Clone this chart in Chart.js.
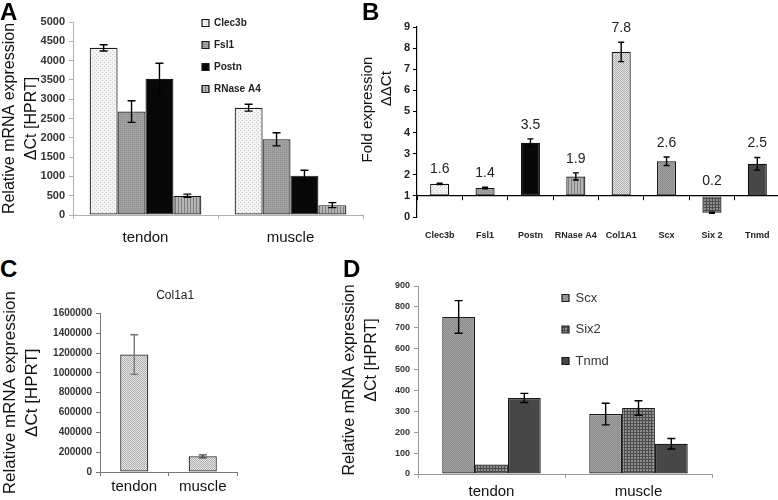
<!DOCTYPE html>
<html>
<head>
<meta charset="utf-8">
<script src="https://cdn.jsdelivr.net/npm/chart.js@4.4.1/dist/chart.umd.min.js"></script>
<style>
  body { margin: 0; background: #fff; }
  #page { position: relative; width: 778px; height: 500px; overflow: hidden; background: #fff; }
  canvas { position: absolute; }
  .letter { position: absolute; font: bold 24px "Liberation Sans", Arial, sans-serif; line-height: 24px; color: #000; }
</style>
</head>
<body>
<div id="page">
  <canvas id="chartA" width="387" height="255" style="left:-2px;top:0px"></canvas>
  <canvas id="chartB" width="422" height="245" style="left:358px;top:0px"></canvas>
  <canvas id="chartC" width="352" height="217" style="left:-1px;top:283px"></canvas>
  <canvas id="chartD" width="433" height="230" style="left:339px;top:270px"></canvas>
  <div class="letter" style="left:0px;top:0px">A</div>
  <div class="letter" style="left:362px;top:0px">B</div>
  <div class="letter" style="left:0px;top:257px">C</div>
  <div class="letter" style="left:343px;top:257px">D</div>
</div>
<script>
// data
const tissues = ["tendon", "muscle"];

// A: relative expression, tendon vs muscle
const aClec3b = [4330, 2780];
const aClec3bErr = [80, 90];
const aFsl1 = [2680, 1960];
const aFsl1Err = [280, 170];
const aPostn = [3530, 1020];
const aPostnErr = [400, 140];
const aRnase = [500, 255];
const aRnaseErr = [40, 65];

// B: fold expression (bars start at 1)
const bGenes = ["Clec3b", "Fsl1", "Postn", "RNase A4", "Col1A1", "Scx", "Six 2", "Tnmd"];
const bValues = [1.57, 1.37, 3.52, 1.92, 7.82, 2.64, 0.2, 2.52];
const bErrors = [0.03, 0.04, 0.18, 0.17, 0.46, 0.2, 0.03, 0.3];
const bLabels = ["1.6", "1.4", "3.5", "1.9", "7.8", "2.6", "0.2", "2.5"];

// C: Col1a1
const cCol1a1 = [1185000, 158000];
const cCol1a1Err = [200000, 15000];

// D: Scx, Six2, Tnmd
const dScx = [752, 287];
const dScxErr = [78, 52];
const dSix2 = [45, 316];
const dSix2Err = [0, 35];
const dTnmd = [364, 145];
const dTnmdErr = [22, 25];

Chart.defaults.font.family = '"Liberation Sans", Arial, sans-serif';
Chart.defaults.color = "#222";

const pattern = (w, h, bg, fg, pixels) => {
  const c = document.createElement("canvas");
  c.width = w;
  c.height = h;
  const g = c.getContext("2d");
  g.fillStyle = bg;
  g.fillRect(0, 0, w, h);
  g.fillStyle = fg;
  pixels.forEach(([x, y]) => g.fillRect(x, y, 1, 1));
  return g.createPattern(c, "repeat");
};

const dotsLight = pattern(4, 4, "#f3f3f3", "#c6c6c6", [[0, 0], [2, 2]]);
const dotsMid = pattern(2, 2, "#e4e4e4", "#b0b0b0", [[0, 0], [1, 1]]);
const greyFsl = pattern(2, 2, "#a0a0a0", "#8e8e8e", [[0, 0]]);
const stripes = pattern(3, 1, "#b6b6b6", "#7e7e7e", [[0, 0]]);
const hatchScx = pattern(2, 2, "#a2a2a2", "#8a8a8a", [[0, 0], [1, 1]]);
const gridSix = pattern(3, 3, "#8c8c8c", "#4c4c4c", [[0, 0], [1, 0], [2, 0], [0, 1], [0, 2]]);
const blackPostn = "#080808";
const darkTnmd = "#474747";

// error bars drawn through the value scale
const errorBars = {
  id: "errorBars",
  afterDatasetsDraw(chart, args, opts) {
    const { ctx } = chart;
    const y = chart.scales.y;
    const cap = opts.cap || 3;
    chart.data.datasets.forEach((ds, i) => {
      if (!ds.errors) return;
      chart.getDatasetMeta(i).data.forEach((bar, j) => {
        const e = ds.errors[j];
        if (!e) return;
        const v = ds.data[j];
        const top = y.getPixelForValue(v + e);
        const bot = y.getPixelForValue(v - e);
        ctx.save();
        ctx.strokeStyle = (ds.errorColors && ds.errorColors[j]) || "#000";
        ctx.lineWidth = 1.4;
        ctx.beginPath();
        ctx.moveTo(bar.x, top);
        ctx.lineTo(bar.x, bot);
        ctx.moveTo(bar.x - cap, top);
        ctx.lineTo(bar.x + cap, top);
        ctx.moveTo(bar.x - cap, bot);
        ctx.lineTo(bar.x + cap, bot);
        ctx.stroke();
        ctx.restore();
      });
    });
  }
};

// value labels above the bars (panel B)
const valueLabels = {
  id: "valueLabels",
  afterDatasetsDraw(chart) {
    const { ctx } = chart;
    const y = chart.scales.y;
    chart.data.datasets.forEach((ds, i) => {
      if (!ds.valueLabels) return;
      chart.getDatasetMeta(i).data.forEach((bar, j) => {
        const top = Math.max(ds.data[j], 1) + (ds.errors ? ds.errors[j] : 0);
        ctx.save();
        ctx.font = '14px "Liberation Sans", Arial, sans-serif';
        ctx.fillStyle = "#222";
        ctx.textAlign = "center";
        ctx.textBaseline = "middle";
        ctx.fillText(ds.valueLabels[j], bar.x, y.getPixelForValue(top) - 14);
        ctx.restore();
      });
    });
  }
};

// move the legend box to a fixed spot inside the canvas
const legendAt = {
  id: "legendAt",
  afterLayout(chart, args, opts) {
    if (opts.x === undefined) return;
    const pad = chart.options.plugins.legend.labels.padding;
    chart.legend.left = opts.x - pad;
    chart.legend.top = opts.y - pad;
  }
};

const plainNumber = v => String(v);

// Panel A
new Chart(document.getElementById("chartA"), {
  type: "bar",
  data: {
    labels: tissues,
    datasets: [
      { label: "Clec3b", data: aClec3b, errors: aClec3bErr, backgroundColor: dotsLight },
      { label: "Fsl1", data: aFsl1, errors: aFsl1Err, backgroundColor: greyFsl },
      { label: "Postn", data: aPostn, errors: aPostnErr, backgroundColor: blackPostn },
      { label: "RNase A4", data: aRnase, errors: aRnaseErr, backgroundColor: stripes }
    ]
  },
  options: {
    responsive: false,
    animation: false,
    events: [],
    devicePixelRatio: 1,
    layout: { padding: { top: 22, right: 22 } },
    datasets: {
      bar: { categoryPercentage: 0.77, barPercentage: 1, borderColor: "#1a1a1a", borderWidth: 1.2, borderSkipped: false }
    },
    scales: {
      x: {
        grid: { drawOnChartArea: false, color: "#b0b0b0", tickLength: 4 },
        border: { color: "#b0b0b0" },
        ticks: { font: { size: 15 }, color: "#111", padding: 10 },
        afterFit: s => { s.height = 40; }
      },
      y: {
        min: 0,
        max: 5000,
        ticks: { stepSize: 500, font: { size: 11, weight: "bold" }, color: "#333", padding: 4, callback: plainNumber },
        grid: { drawOnChartArea: false, color: "#b0b0b0", tickLength: 4 },
        border: { color: "#b0b0b0" },
        title: {
          display: true,
          text: ["Relative mRNA expression", "ΔCt [HPRT]"],
          font: { size: 16, lineHeight: 1.4 },
          color: "#111",
          padding: 0
        },
        afterFit: s => { s.width = 75; }
      }
    },
    plugins: {
      legend: {
        position: "chartArea",
        align: "start",
        labels: { boxWidth: 7, boxHeight: 7, padding: 12, font: { size: 10, weight: "bold" }, color: "#222" }
      },
      legendAt: { x: 204, y: 18 },
      errorBars: { cap: 4 },
      tooltip: { enabled: false }
    }
  },
  plugins: [errorBars, legendAt]
});

// Panel B
new Chart(document.getElementById("chartB"), {
  type: "bar",
  data: {
    labels: bGenes,
    datasets: [{
      label: "Fold expression",
      data: bValues,
      errors: bErrors,
      valueLabels: bLabels,
      base: 1,
      backgroundColor: [dotsLight, greyFsl, blackPostn, stripes, dotsMid, hatchScx, gridSix, darkTnmd],
      borderColor: "#111",
      borderWidth: 1.2,
      borderSkipped: false,
      categoryPercentage: 1,
      barPercentage: 0.42
    }]
  },
  options: {
    responsive: false,
    animation: false,
    events: [],
    devicePixelRatio: 1,
    layout: { padding: { top: 27, right: 0 } },
    scales: {
      x: {
        grid: { display: false },
        border: { display: false },
        ticks: { font: { size: 9, weight: "bold" }, color: "#222", padding: 5, maxRotation: 0, minRotation: 0, autoSkip: false },
        afterFit: s => { s.height = 28; }
      },
      xBase: {
        type: "category",
        labels: bGenes,
        position: { y: 1 },
        offset: true,
        grid: { offset: true, drawOnChartArea: false, color: "#000", tickLength: 4 },
        border: { color: "#000", width: 1.2 },
        ticks: { display: false }
      },
      y: {
        min: 0,
        max: 9,
        ticks: { stepSize: 1, font: { size: 11, weight: "bold" }, color: "#222", padding: 3 },
        grid: { drawOnChartArea: false, color: "#000", tickLength: 4 },
        border: { color: "#000", width: 1.2 },
        title: {
          display: true,
          text: ["      Fold expression", "                ΔΔCt"],
          font: { size: 15, lineHeight: 1.27 },
          color: "#111",
          padding: 0
        },
        afterFit: s => { s.width = 59; }
      }
    },
    plugins: {
      legend: { display: false },
      errorBars: { cap: 3 },
      tooltip: { enabled: false }
    }
  },
  plugins: [errorBars, valueLabels]
});

// Panel C
new Chart(document.getElementById("chartC"), {
  type: "bar",
  data: {
    labels: tissues,
    datasets: [{
      label: "Col1a1",
      data: cCol1a1,
      errors: cCol1a1Err,
      errorColors: ["#777", "#444"],
      backgroundColor: dotsMid,
      borderColor: "#222",
      borderWidth: 1.2,
      borderSkipped: false,
      categoryPercentage: 1,
      barPercentage: 0.41
    }]
  },
  options: {
    responsive: false,
    animation: false,
    events: [],
    devicePixelRatio: 1,
    layout: { padding: { right: 114 } },
    scales: {
      x: {
        grid: { drawOnChartArea: false, color: "#777", tickLength: 4 },
        border: { color: "#777" },
        ticks: { font: { size: 15 }, color: "#111", padding: 2 },
        afterFit: s => { s.height = 28; }
      },
      y: {
        min: 0,
        max: 1600000,
        ticks: { stepSize: 200000, font: { size: 10, weight: "bold" }, color: "#333", padding: 4, callback: plainNumber },
        grid: { drawOnChartArea: false, color: "#777", tickLength: 4 },
        border: { color: "#777" },
        title: {
          display: true,
          text: ["Relative mRNA expression", "ΔCt [HPRT]"],
          font: { size: 17, lineHeight: 1.3 },
          color: "#111",
          padding: 0
        },
        afterFit: s => { s.width = 101; }
      }
    },
    plugins: {
      legend: { display: false },
      title: {
        display: true,
        fullSize: false,
        text: "    Col1a1",
        font: { size: 12, weight: "normal" },
        color: "#222",
        padding: { top: 5, bottom: 11 }
      },
      errorBars: { cap: 4 },
      tooltip: { enabled: false }
    }
  },
  plugins: [errorBars]
});

// Panel D
new Chart(document.getElementById("chartD"), {
  type: "bar",
  data: {
    labels: tissues,
    datasets: [
      { label: "Scx", data: dScx, errors: dScxErr, backgroundColor: hatchScx },
      { label: "Six2", data: dSix2, errors: dSix2Err, backgroundColor: gridSix },
      { label: "Tnmd", data: dTnmd, errors: dTnmdErr, backgroundColor: darkTnmd }
    ]
  },
  options: {
    responsive: false,
    animation: false,
    events: [],
    devicePixelRatio: 1,
    layout: { padding: { top: 16, right: 60 } },
    datasets: {
      bar: { categoryPercentage: 0.67, barPercentage: 1, borderColor: "#1a1a1a", borderWidth: 1.2, borderSkipped: false }
    },
    scales: {
      x: {
        grid: { drawOnChartArea: false, color: "#999", tickLength: 4 },
        border: { color: "#999" },
        ticks: { font: { size: 15 }, color: "#111", padding: 5 },
        afterFit: s => { s.height = 26; }
      },
      y: {
        min: 0,
        max: 900,
        ticks: { stepSize: 100, font: { size: 9, weight: "bold" }, color: "#333", padding: 4 },
        grid: { drawOnChartArea: false, color: "#999", tickLength: 4 },
        border: { color: "#999" },
        title: {
          display: true,
          text: ["Relative mRNA expression", "         ΔCt [HPRT]"],
          font: { size: 16, lineHeight: 1.375 },
          color: "#111",
          padding: 0
        },
        afterFit: s => { s.width = 79; }
      }
    },
    plugins: {
      legend: {
        position: "chartArea",
        align: "start",
        labels: { boxWidth: 7, boxHeight: 7, padding: 18.5, font: { size: 13 }, color: "#333" }
      },
      legendAt: { x: 223, y: 21.5 },
      errorBars: { cap: 4 },
      tooltip: { enabled: false }
    }
  },
  plugins: [errorBars, legendAt]
});
</script>
</body>
</html>
